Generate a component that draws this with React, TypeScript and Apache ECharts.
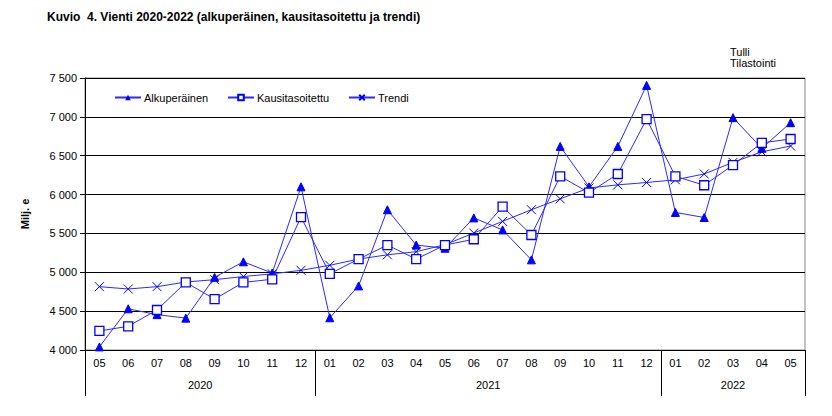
import React, { useEffect, useRef } from "react";
import * as echarts from "echarts";

const months = ["05","06","07","08","09","10","11","12","01","02","03","04","05","06","07","08","09","10","11","12","01","02","03","04","05"];
const years = ["2020", "2021", "2022"];
// year spans in months
const yearSpans = [8, 12, 5];

const alkuperainen = [4040, 4530, 4455, 4410, 4935, 5135, 4990, 6100, 4415, 4825, 5805, 5350, 5310, 5700, 5545, 5160, 6620, 6100, 6620, 7405, 5770, 5705, 6990, 6595, 6925];
const kausitasoitettu = [4245, 4305, 4515, 4870, 4655, 4870, 4910, 5710, 4980, 5170, 5350, 5170, 5350, 5425, 5845, 5480, 6235, 6025, 6265, 6970, 6235, 6120, 6380, 6665, 6715];
const trendi = [4815, 4785, 4815, 4875, 4905, 4945, 4980, 5025, 5090, 5170, 5225, 5265, 5355, 5505, 5655, 5805, 5945, 6085, 6125, 6155, 6190, 6265, 6415, 6550, 6625];

const FONT = "'Liberation Sans', Arial, sans-serif";
const BLUE = "#0000ff";
const LINE = "#2a2aff";

export default function App() {
  const ref = useRef<HTMLDivElement>(null);
  useEffect(() => {
    if (!ref.current) return;
    const chart = echarts.init(ref.current, undefined, { renderer: "svg" });

    // half-month positions for the year axis (boundaryGap false, 2*N+1 slots)
    const n = months.length;
    const halfSlots: string[] = [];
    for (let i = 0; i <= 2 * n; i++) halfSlots.push("");
    const yearTickIdx = new Set<number>([0]);
    const yearLabelIdx = new Map<number, string>();
    let acc = 0;
    yearSpans.forEach((s, k) => {
      yearLabelIdx.set(2 * acc + s, years[k]);
      acc += s;
      yearTickIdx.add(2 * acc);
    });
    yearLabelIdx.forEach((v, k) => (halfSlots[k] = v));

    const xSym = "path://M0,0L10,10M10,0L0,10";

    const legendBase = {
      top: 92,
      padding: 0,
      itemWidth: 26,
      itemHeight: 7,
      textStyle: { fontFamily: FONT, fontSize: 11, color: "#000", padding: [0, 0, 0, -2] },
    };

    chart.setOption({
      animation: false,
      textStyle: { fontFamily: FONT },
      graphic: [
        {
          type: "text",
          left: 47,
          top: 11,
          style: {
            text: "Kuvio  4. Vienti 2020-2022 (alkuperäinen, kausitasoitettu ja trendi)",
            font: "bold 12px 'Liberation Sans Narrow', 'Liberation Sans', Arial",
            fill: "#000",
          },
        },
        {
          type: "text",
          left: 730,
          top: 46,
          style: {
            text: "Tulli\nTilastointi",
            font: "11px 'Liberation Sans', Arial",
            lineHeight: 11,
            fill: "#000",
          },
        },
      ],
      legend: [
        { ...legendBase, data: ["Alkuperäinen"], left: 114 },
        { ...legendBase, data: ["Kausitasoitettu"], left: 227 },
        { ...legendBase, data: ["Trendi"], left: 348 },
      ],
      grid: {
        left: 85,
        right: 27,
        top: 78,
        bottom: 66,
        show: true,
        borderColor: "#888",
        borderWidth: 1,
        backgroundColor: "transparent",
      },
      xAxis: [
        {
          type: "category",
          data: months,
          boundaryGap: true,
          axisLine: { lineStyle: { color: "#000", width: 1 } },
          axisTick: { interval: 0, length: 24, lineStyle: { color: "#000" } },
          axisLabel: { interval: 0, margin: 7, fontSize: 11, color: "#000", fontFamily: FONT },
          splitLine: { show: false },
        },
        {
          type: "category",
          data: halfSlots,
          boundaryGap: false,
          position: "bottom",
          axisLine: { show: false },
          axisTick: {
            interval: (i: number) => yearTickIdx.has(i),
            length: 46,
            lineStyle: { color: "#000" },
          },
          axisLabel: {
            interval: (i: number) => yearLabelIdx.has(i),
            margin: 29,
            fontSize: 11,
            color: "#000",
            fontFamily: FONT,
          },
          splitLine: { show: false },
        },
      ],
      yAxis: {
        type: "value",
        min: 4000,
        max: 7500,
        interval: 500,
        name: "Milj. e",
        nameLocation: "middle",
        nameGap: 55,
        nameRotate: 90,
        nameTextStyle: { fontWeight: "bold", fontSize: 11, color: "#000", fontFamily: FONT },
        axisLine: { show: true, lineStyle: { color: "#000" } },
        axisTick: { show: true, length: 5, lineStyle: { color: "#000" } },
        axisLabel: {
          fontSize: 11,
          color: "#000",
          margin: 8,
          fontFamily: FONT,
          formatter: (v: number) => {
            const s = String(v);
            return s.length > 3 ? s.slice(0, s.length - 3) + " " + s.slice(-3) : s;
          },
        },
        splitLine: { show: true, lineStyle: { color: "#000", width: 1 } },
      },
      series: [
        {
          name: "Alkuperäinen",
          type: "line",
          data: alkuperainen,
          symbol: "triangle",
          symbolSize: 8,
          showAllSymbol: true,
          lineStyle: { color: LINE, width: 1 },
          itemStyle: { color: BLUE, borderColor: BLUE },
          z: 3,
        },
        {
          name: "Kausitasoitettu",
          type: "line",
          data: kausitasoitettu,
          symbol: "rect",
          symbolSize: 9,
          showAllSymbol: true,
          lineStyle: { color: LINE, width: 1 },
          itemStyle: { color: "#fff", borderColor: BLUE, borderWidth: 1.3 },
          z: 4,
        },
        {
          name: "Trendi",
          type: "line",
          data: trendi,
          symbol: xSym,
          symbolSize: 9,
          showAllSymbol: true,
          lineStyle: { color: LINE, width: 1 },
          itemStyle: { color: "none", borderColor: BLUE, borderWidth: 1 },
          z: 2,
        },
      ],
    });
    return () => chart.dispose();
  }, []);
  return <div ref={ref} style={{ width: 832, height: 416, margin: -8 }} />;
}
